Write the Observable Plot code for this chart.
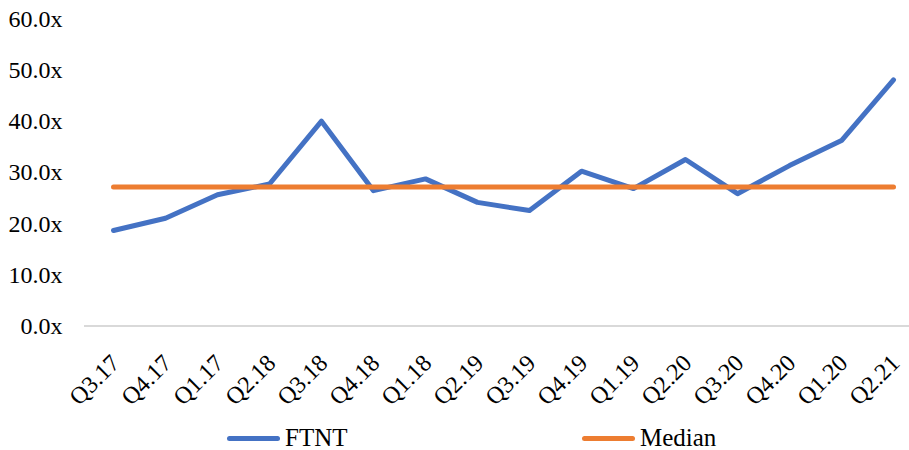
<!DOCTYPE html>
<html>
<head>
<meta charset="utf-8">
<script src="https://cdn.jsdelivr.net/npm/d3@7"></script>
<script src="https://cdn.jsdelivr.net/npm/@observablehq/plot@0.6"></script>
<style>
  html, body { margin: 0; padding: 0; background: #fff; }
  #chart { width: 909px; }
  .legend { position: relative; width: 909px; height: 30px; font-family: "Liberation Serif", serif; font-size: 25px; color: #000; }
  .legend .item { position: absolute; top: 0; display: flex; align-items: center; height: 36px; }
  .legend .swatch { width: 53px; height: 5px; border-radius: 3px; margin-right: 5px; }
</style>
</head>
<body>
<div id="chart"></div>
<script>
const quarters = ["Q3.17","Q4.17","Q1.17","Q2.18","Q3.18","Q4.18","Q1.18","Q2.19","Q3.19","Q4.19","Q1.19","Q2.20","Q3.20","Q4.20","Q1.20","Q2.21"];
const ftnt = [18.7, 21.1, 25.7, 27.8, 40.1, 26.5, 28.8, 24.2, 22.6, 30.3, 26.9, 32.6, 25.9, 31.4, 36.3, 48.2];
const medianValue = 27.2;
const yTicks = [0, 10, 20, 30, 40, 50, 60];
const seriesNames = ["FTNT", "Median"];
const seriesColors = ["#4472C4", "#ED7D31"];

const ftntData = quarters.map((q, i) => ({q, v: ftnt[i]}));
const medianData = quarters.map(q => ({q, v: medianValue}));

const chart = Plot.plot({
  width: 909,
  height: 420,
  marginLeft: 112,
  marginRight: 16,
  marginTop: 19,
  marginBottom: 94.5,
  style: {fontFamily: "'Liberation Serif', serif", fontSize: "22px", color: "#000", background: "#fff"},
  x: {type: "point", domain: quarters, padding: 0},
  y: {domain: [0, 60]},
  marks: [
    Plot.ruleY([0], {stroke: "#D9D9D9", strokeWidth: 2, insetLeft: -28, insetRight: -20}),
    Plot.axisY({ticks: yTicks, tickFormat: d => d.toFixed(1) + "x", tickSize: 0, tickPadding: 50, label: null, fontSize: 24}),
    Plot.axisX({tickSize: 0, tickPadding: 33, tickRotate: -45, label: null, fontSize: 24, dx: 2}),
    Plot.lineY(ftntData, {x: "q", y: "v", stroke: seriesColors[0], strokeWidth: 5, strokeLinecap: "round", strokeLinejoin: "round"}),
    Plot.lineY(medianData, {x: "q", y: "v", stroke: seriesColors[1], strokeWidth: 5, strokeLinecap: "round", strokeLinejoin: "round"})
  ]
});
document.getElementById("chart").appendChild(chart);

const legend = document.createElement("div");
legend.className = "legend";
const lefts = [227, 582];
seriesNames.forEach((name, i) => {
  const item = document.createElement("div");
  item.className = "item";
  item.style.left = lefts[i] + "px";
  const sw = document.createElement("div");
  sw.className = "swatch";
  sw.style.background = seriesColors[i];
  const t = document.createElement("span");
  t.textContent = name;
  item.appendChild(sw);
  item.appendChild(t);
  legend.appendChild(item);
});
document.getElementById("chart").appendChild(legend);
</script>
</body>
</html>
